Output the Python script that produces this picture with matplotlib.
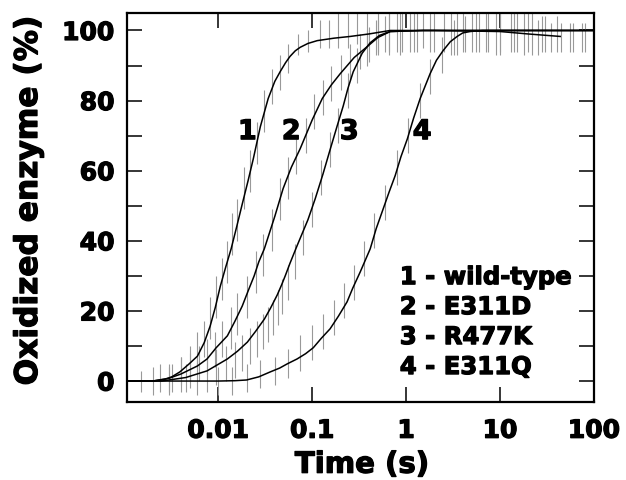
import numpy as np
import matplotlib
matplotlib.use("Agg")
import matplotlib.pyplot as plt
import matplotlib.patheffects as pe
from matplotlib.ticker import FixedLocator, NullLocator, NullFormatter

# SERIES NAMES
names = ["wild-type", "E311D", "R477K", "E311Q"]

# FITTED CURVES (time in s, oxidized enzyme in %)
fit1_t = [0.0011, 0.002, 0.0027, 0.0032, 0.0039, 0.0049, 0.006, 0.0071, 0.0082, 0.0093,
          0.0105, 0.012, 0.0137, 0.0157, 0.018, 0.0207, 0.0236, 0.028, 0.034, 0.04,
          0.0457, 0.052, 0.058, 0.066, 0.0745, 0.09, 0.113, 0.17, 0.254, 0.4, 0.676,
          2, 10, 20, 43.6]
fit1_y = [0, 0, 0.5, 1.2, 2.6, 4.9, 7.1, 11, 15.7, 21,
          27, 32.5, 37.7, 44, 50.5, 57, 63.4, 72.5, 80.6, 85.5,
          88.3, 90.8, 92.6, 94.2, 95.2, 96.3, 97.1, 97.8, 98.3, 99, 100,
          100, 99.7, 99, 98.3]

fit2_t = [0.0011, 0.002, 0.003, 0.004, 0.006, 0.0076, 0.0095, 0.0125, 0.015, 0.018,
          0.021, 0.0241, 0.027, 0.0309, 0.04, 0.049, 0.06, 0.0745, 0.1, 0.128,
          0.16, 0.199, 0.28, 0.385, 0.5, 0.676, 1.5, 100]
fit2_y = [0, 0, 0.8, 2, 4.3, 6.3, 9.5, 12.9, 17, 21.4,
          26, 30, 34, 37.7, 47, 54.9, 61, 66.3, 74.5, 80.6,
          84.5, 87.7, 92.3, 95.4, 98, 99.7, 100, 100]

fit3_t = [0.0011, 0.0025, 0.0045, 0.0076, 0.0125, 0.016, 0.0204, 0.025, 0.031, 0.036,
          0.0425, 0.047, 0.0516, 0.058, 0.069, 0.09, 0.1076, 0.13, 0.155, 0.183,
          0.214, 0.24, 0.273, 0.34, 0.414, 0.52, 0.676, 1.5, 100]
fit3_y = [0, 0, 1, 2.9, 6.3, 8.5, 11.1, 14.2, 17.7, 20.8,
          24.6, 27.3, 30, 33.6, 38.6, 46, 52, 59, 66, 72.5,
          78.5, 83.5, 88.2, 93.5, 96.5, 98.6, 99.7, 100, 100]

fit4_t = [0.0011, 0.01, 0.015, 0.02, 0.027, 0.0357, 0.045, 0.0542, 0.069, 0.085,
          0.1026, 0.125, 0.155, 0.19, 0.235, 0.27, 0.324, 0.414, 0.48, 0.569,
          0.66, 0.764, 0.88, 1.03, 1.2, 1.41, 1.8, 2.1, 2.48, 2.95,
          3.49, 4, 4.8, 6.5, 10, 100]
fit4_y = [0, 0, 0.1, 0.3, 1.2, 2.6, 3.7, 4.9, 6.3, 7.8,
          9.5, 12.2, 14.9, 18.5, 22.6, 26.5, 31.1, 37.7, 43.5, 49.1,
          54, 58.6, 64, 69.1, 75, 80.6, 87.7, 91.5, 94.3, 96.8,
          98.3, 99.3, 99.7, 100, 100, 100]

# MEASURED POINTS (time, value, half error bar)
dat1_t = [0.0015, 0.0024, 0.0032, 0.004, 0.005, 0.006, 0.0071, 0.0082, 0.0095, 0.011,
          0.0125, 0.014, 0.016, 0.019, 0.022, 0.026, 0.031, 0.037, 0.045, 0.055,
          0.07, 0.09, 0.12, 0.15, 0.19, 0.24, 0.3, 0.38, 0.5, 0.65,
          0.85, 1.1, 1.5, 2, 3, 4, 6, 9, 13, 18, 25, 35]
dat1_y = [0, 1, 1, 3, 5, 9, 12, 18, 24, 29,
          34, 42, 46, 55, 60, 68, 77, 84, 88, 92,
          96, 97, 99, 99, 100, 100, 101, 100, 100, 100,
          99, 100, 101, 100, 99, 100, 100, 99, 100, 99, 98, 98]
dat1_e = [3, 4, 4, 4, 5, 5, 5, 6, 6, 6,
          6, 6, 6, 6, 6, 6, 6, 5, 5, 4,
          3, 3, 4, 4, 5, 5, 5, 5, 6, 6,
          6, 6, 6, 6, 6, 6, 6, 6, 6, 6, 5, 4]

dat2_t = [0.002, 0.003, 0.004, 0.005, 0.0062, 0.0076, 0.0092, 0.011, 0.0135, 0.016,
          0.02, 0.025, 0.03, 0.037, 0.045, 0.055, 0.068, 0.085, 0.105, 0.13,
          0.16, 0.2, 0.25, 0.32, 0.4, 0.5, 0.65, 0.9, 1.3, 1.8,
          2.5, 3.5, 5, 7, 10, 15, 22, 30, 45, 60, 80]
dat2_y = [0, 1, 2, 3, 5, 7, 9, 12, 15, 19,
          24, 31, 36, 43, 52, 58, 64, 70, 77, 81,
          85, 88, 91, 94, 96, 98, 99, 100, 100, 100,
          100, 99, 100, 100, 99, 100, 99, 99, 98, 98, 98]
dat2_e = [4, 4, 5, 5, 5, 5, 5, 5, 6, 6,
          6, 6, 6, 6, 6, 6, 5, 5, 5, 5,
          5, 5, 5, 5, 5, 5, 6, 6, 6, 6,
          6, 6, 6, 6, 6, 6, 6, 5, 4, 4, 4]

dat3_t = [0.003, 0.0045, 0.006, 0.0076, 0.0095, 0.012, 0.015, 0.018, 0.022, 0.026,
          0.03, 0.034, 0.038, 0.043, 0.048, 0.055, 0.065, 0.08, 0.1, 0.125,
          0.155, 0.19, 0.24, 0.3, 0.38, 0.48, 0.6, 0.8, 1.2]
dat3_y = [0, 1, 1, 2, 4, 5, 6, 8, 10, 12,
          14, 16, 18, 21, 24, 28, 34, 41, 49, 58,
          66, 73, 83, 90, 95, 98, 99, 100, 100]
dat3_e = [4, 4, 5, 5, 5, 5, 5, 5, 5, 5,
          5, 5, 5, 5, 5, 5, 5, 5, 5, 5,
          5, 5, 5, 5, 5, 5, 5, 6, 6]

dat4_t = [0.01, 0.014, 0.02, 0.028, 0.04, 0.055, 0.075, 0.1, 0.13, 0.17,
          0.22, 0.28, 0.36, 0.46, 0.6, 0.8, 1.05, 1.4, 1.8, 2.4,
          3.2, 4.2, 5.5, 7.5, 10, 14, 20, 28, 40, 55, 75]
dat4_y = [0, 0, 1, 2, 3, 5, 8, 11, 14, 18,
          23, 28, 35, 43, 51, 61, 70, 80, 87, 93,
          98, 99, 100, 100, 100, 100, 100, 99, 99, 98, 98]
dat4_e = [4, 4, 4, 4, 4, 4, 5, 5, 5, 5,
          5, 5, 5, 5, 5, 5, 5, 5, 5, 5,
          5, 5, 6, 6, 6, 6, 6, 5, 5, 4, 4]

# curve number labels (position in data coords)
num_t = [0.0204, 0.0598, 0.248, 1.48]
num_y = [71, 71, 71, 71]

plt.rcParams['font.family'] = ['DejaVu Sans']
plt.rcParams['font.weight'] = 'bold'

heavy = [pe.withStroke(linewidth=0.9, foreground='black')]

fig = plt.figure(figsize=(6.26, 4.81), dpi=100)
ax = fig.add_axes([0.203, 0.162, 0.746, 0.809])

# DATA (grey bars)
for t, y, e in [(dat1_t, dat1_y, dat1_e), (dat2_t, dat2_y, dat2_e),
                (dat3_t, dat3_y, dat3_e), (dat4_t, dat4_y, dat4_e)]:
    ax.errorbar(t, y, yerr=e, fmt='none', ecolor='0.6', elinewidth=0.8, capsize=0, zorder=2)

# FITS
for t, y in [(fit1_t, fit1_y), (fit2_t, fit2_y), (fit3_t, fit3_y), (fit4_t, fit4_y)]:
    ax.plot(t, y, color='black', lw=1.1, zorder=3)

for i in range(4):
    ax.text(num_t[i], num_y[i], str(i + 1), fontsize=19.5, fontweight='bold',
            ha='center', va='center', path_effects=heavy)

for i, n in enumerate(names):
    ax.text(0.584, 0.321 - i * 0.077, "%d - %s" % (i + 1, n), transform=ax.transAxes,
            fontsize=17.5, fontweight='bold', ha='left', va='center', path_effects=heavy)

ax.set_xscale('log')
ax.set_xlim(0.00107, 100)
ax.set_ylim(-6, 105)
ax.xaxis.set_major_locator(FixedLocator([0.01, 0.1, 1, 10, 100]))
ax.set_xticklabels(['0.01', '0.1', '1', '10', '100'])
ax.xaxis.set_minor_locator(NullLocator())
ax.xaxis.set_minor_formatter(NullFormatter())
ax.set_yticks(np.arange(0, 101, 20))
ax.yaxis.set_minor_locator(FixedLocator(np.arange(10, 100, 20)))
ax.tick_params(which='both', direction='in', top=True, right=True, length=11, width=1.1,
               labelsize=18)
ax.tick_params(axis='x', pad=12)
ax.tick_params(axis='y', pad=9)
for lab in ax.get_xticklabels() + ax.get_yticklabels():
    lab.set_path_effects(heavy)
for s in ax.spines.values():
    s.set_linewidth(1.6)

ax.set_xlabel('Time (s)', fontsize=21, fontweight='bold', path_effects=heavy)
ax.set_ylabel('Oxidized enzyme (%)', fontsize=22.5, fontweight='bold', path_effects=heavy)
ax.xaxis.set_label_coords(0.503, -0.125)
ax.yaxis.set_label_coords(-0.18, 0.518)

fig.savefig('out.png', dpi=100)
